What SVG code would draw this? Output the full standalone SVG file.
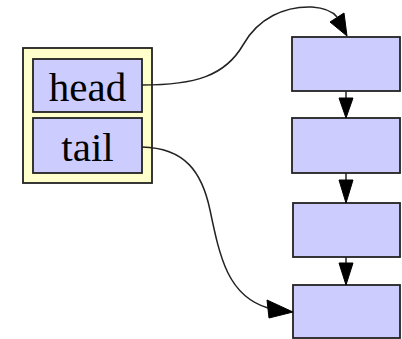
<svg xmlns="http://www.w3.org/2000/svg" width="402" height="339" viewBox="0 0 402 339">
  <style>
    .outer { fill: #ffffcc; stroke: #222; stroke-width: 1.8; }
    .field { fill: #ccccff; stroke: #222; stroke-width: 1.8; }
    .item { fill: #ccccff; stroke: #222; stroke-width: 1.8; }
    .label { font-family: "Liberation Serif", "Times New Roman", serif; font-size: 41px; fill: #000; text-anchor: middle; }
    .edge { fill: none; stroke: #222; stroke-width: 1.5; }
    .head { fill: #000; stroke: #000; stroke-width: 1; }
  </style>
  <rect width="402" height="339" fill="#ffffff"/>

  <!-- list record with head/tail fields -->
  <g id="list">
    <rect class="outer" x="23" y="48" width="129" height="135"/>
    <g id="head">
      <rect class="field" x="33" y="59" width="109" height="53"/>
      <text class="label" x="87.5" y="101">head</text>
    </g>
    <g id="tail">
      <rect class="field" x="33" y="118" width="109" height="55"/>
      <text class="label" x="87.5" y="161">tail</text>
    </g>
  </g>

  <!-- chain of list elements -->
  <g id="n1"><rect class="item" x="292" y="37" width="108" height="54"/></g>
  <g id="n2"><rect class="item" x="292" y="118" width="108" height="55"/></g>
  <g id="n3"><rect class="item" x="293" y="203" width="107" height="54"/></g>
  <g id="n4"><rect class="item" x="293" y="285" width="107" height="53"/></g>

  <g id="edges">
    <!-- head -> first element -->
    <path class="edge" d="M142,85 C195,85 225,76 243,45 C258,18 285,6 312,7 C326,8 333,12 337,17"/>
    <polygon class="head" points="330,22 344,13 347,36"/>
    <!-- tail -> last element -->
    <path class="edge" d="M142,147 C185,148 202,172 210,210 C220,258 228,296 268,308"/>
    <polygon class="head" points="267,300 269,318 293,312"/>
    <!-- element links -->
    <line class="edge" x1="346" y1="91" x2="346" y2="99"/>
    <polygon class="head" points="339,98 353,98 346,118"/>
    <line class="edge" x1="346" y1="173" x2="346" y2="181"/>
    <polygon class="head" points="339,180 353,180 346,203"/>
    <line class="edge" x1="346" y1="257" x2="346" y2="264"/>
    <polygon class="head" points="339,263 353,263 346,285"/>
  </g>
</svg>
